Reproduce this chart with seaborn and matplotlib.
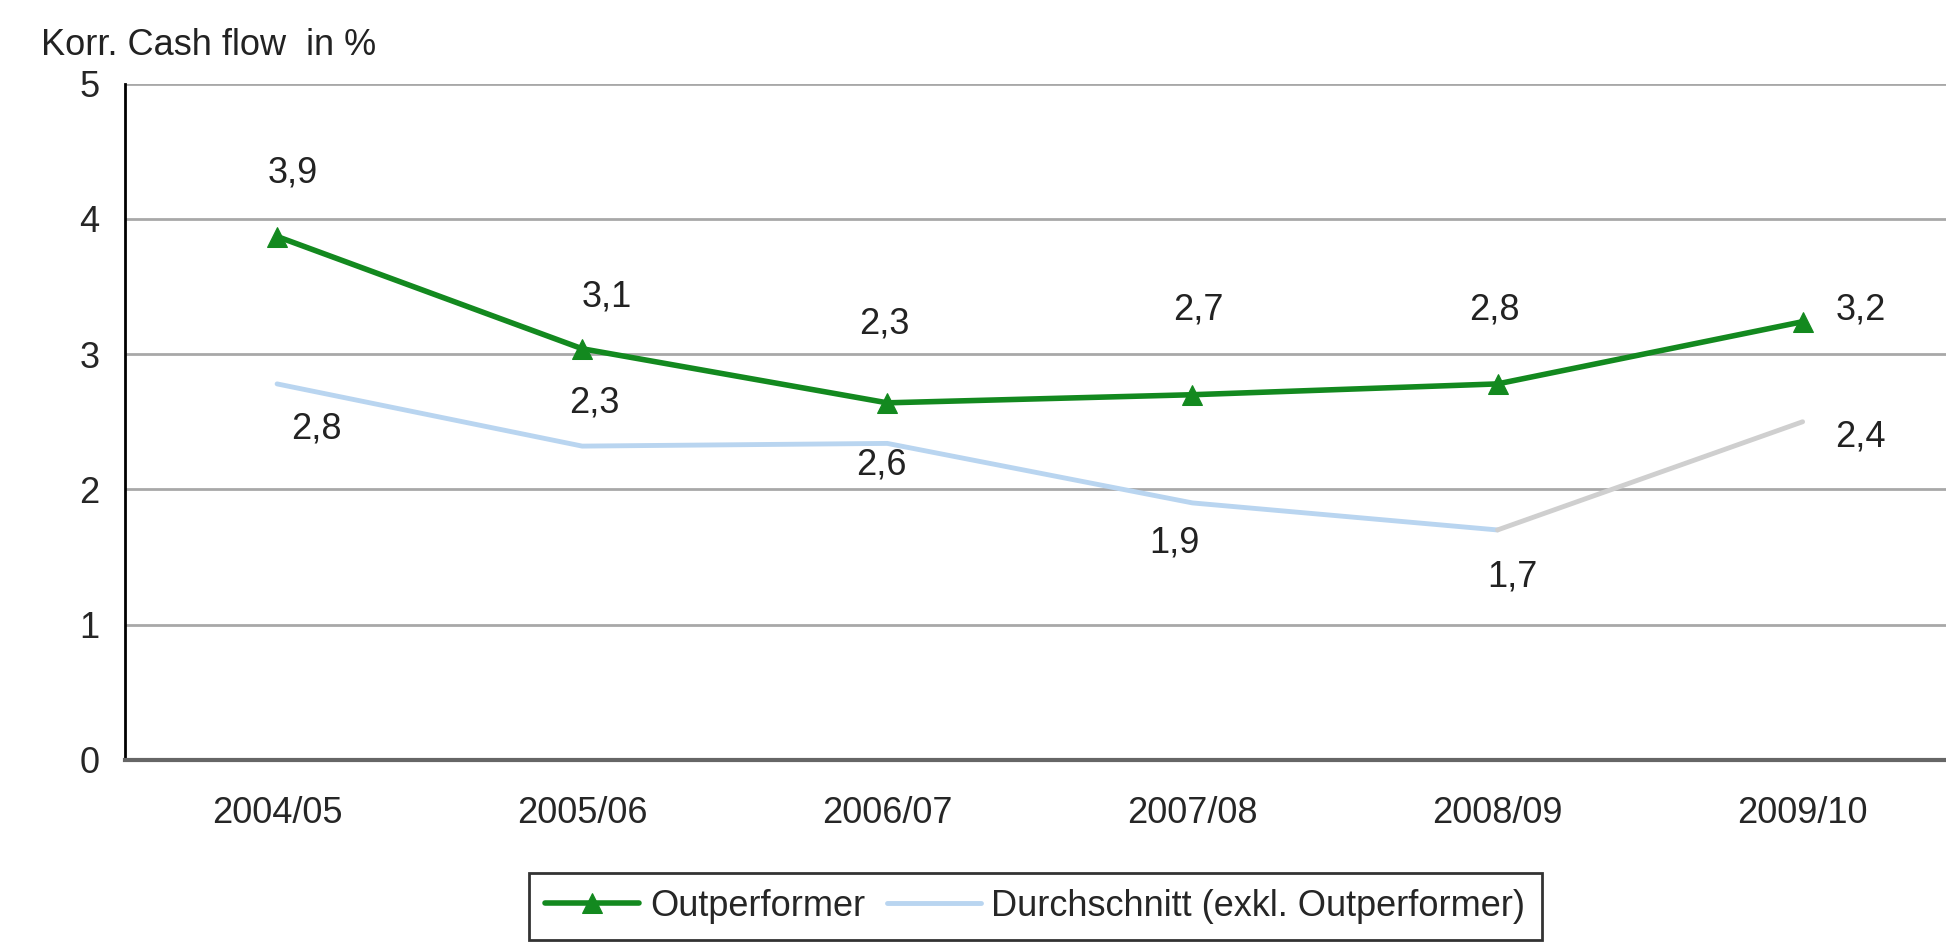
import matplotlib.pyplot as plt
import seaborn as sns
import numpy as np
import pandas as pd

# data
years = ['2004/05', '2005/06', '2006/07', '2007/08', '2008/09', '2009/10']
outperformer = [3.87, 3.04, 2.64, 2.70, 2.78, 3.24]
durchschnitt = [2.78, 2.32, 2.34, 1.90, 1.70, 2.50]
labels_out = ['3,9', '3,1', '2,3', '2,7', '2,8', '3,2']
labels_avg = ['2,8', '2,3', '2,6', '1,9', '1,7', '2,4']

# label offsets (data units) relative to each point
off_out = [(0.05, 0.47), (0.08, 0.38), (-0.01, 0.58), (0.02, 0.63), (-0.01, 0.55), (0.19, 0.09)]
off_avg = [(0.13, -0.33), (0.04, 0.32), (-0.02, -0.16), (-0.06, -0.30), (0.05, -0.35), (0.19, -0.11)]

sns.set_style('white')
plt.rcParams['font.family'] = ['Liberation Sans', 'DejaVu Sans']

x = np.arange(len(years))
df = pd.DataFrame({'x': x, 'out': outperformer, 'avg': durchschnitt})

fig = plt.figure(figsize=(19.46, 9.51), dpi=100)
ax = fig.add_axes([0.064, 0.201, 0.936, 0.711])

green = '#13891f'
blue = '#b9d5f0'
grey = '#cfcfcf'

for yv in [1, 2, 3, 4, 5]:
    ax.axhline(yv, color='#a8a8a8', lw=2, zorder=0)

sns.lineplot(data=df.iloc[:5], x='x', y='avg', ax=ax, color=blue, lw=3.5,
             label='Durchschnitt (exkl. Outperformer)', zorder=2)
sns.lineplot(data=df.iloc[4:], x='x', y='avg', ax=ax, color=grey, lw=3.5,
             legend=False, zorder=2)
sns.lineplot(data=df, x='x', y='out', ax=ax, color=green, lw=4, marker='^',
             markersize=15, markeredgecolor=green, label='Outperformer', zorder=3)

fs = 26
for i in range(len(years)):
    ax.text(x[i] + off_out[i][0], outperformer[i] + off_out[i][1], labels_out[i],
            ha='center', va='center', fontsize=fs, color='#222222')
    ax.text(x[i] + off_avg[i][0], durchschnitt[i] + off_avg[i][1], labels_avg[i],
            ha='center', va='center', fontsize=fs, color='#222222')

ax.set_xlim(-0.5, 5.47)
ax.set_ylim(0, 5)
ax.set_yticks([0, 1, 2, 3, 4, 5])
ax.set_xticks(x)
ax.set_xticklabels(years)
ax.set_xticks(np.arange(-0.5, 5.5, 1), minor=True)
ax.tick_params(axis='x', which='major', length=0, pad=26, labelsize=fs)
ax.tick_params(axis='x', which='minor', length=8, width=1.5, direction='out', color='#555555')
ax.tick_params(axis='y', length=6, width=1.5, direction='out', pad=12, labelsize=fs)
ax.set_xlabel('')
ax.set_ylabel('')

for s in ['top', 'right']:
    ax.spines[s].set_visible(False)
ax.spines['left'].set_color('black')
ax.spines['left'].set_linewidth(2)
ax.spines['bottom'].set_color('#666666')
ax.spines['bottom'].set_linewidth(3)

fig.text(0.021, 0.952, 'Korr. Cash flow  in %', fontsize=fs, ha='left', va='center', color='#222222')

handles, labs = ax.get_legend_handles_labels()
order = [labs.index('Outperformer'), labs.index('Durchschnitt (exkl. Outperformer)')]
leg = ax.legend([handles[i] for i in order], [labs[i] for i in order],
                loc='center', bbox_to_anchor=(0.532, 0.047), bbox_transform=fig.transFigure,
                ncol=2, fontsize=fs, frameon=True, fancybox=False, handlelength=2.6,
                handletextpad=0.3, columnspacing=0.6, borderpad=0.45)
leg.get_frame().set_edgecolor('black')
leg.get_frame().set_linewidth(2)

fig.savefig('out.png', dpi=100)
